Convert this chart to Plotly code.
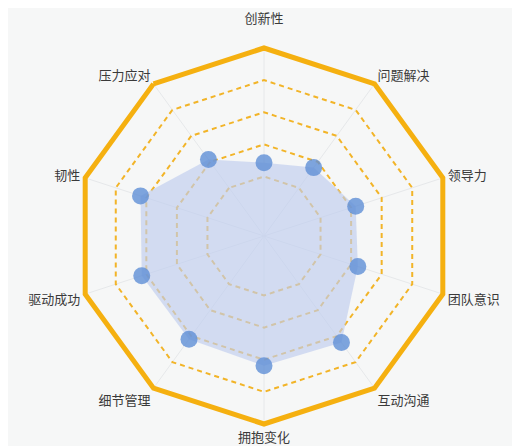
import plotly.graph_objects as go

categories = ["创新性", "问题解决", "领导力", "团队意识", "互动沟通",
              "拥抱变化", "细节管理", "驱动成功", "韧性", "压力应对"]
scores = [2.43, 2.78, 3.15, 3.22, 4.25, 4.19, 4.12, 4.15, 4.19, 3.09]
ring_values = [2, 3, 4, 5]
axis_min, axis_max = 0.15, 6
label_text = ["创新性<br> "] + categories[1:]

fig = go.Figure()
fig.add_trace(go.Scatterpolar(
    r=scores + scores[:1], theta=categories + categories[:1],
    mode="lines", fill="toself", fillcolor="rgba(190,204,238,0.65)",
    line=dict(width=0, color="rgba(0,0,0,0)"), hoverinfo="skip", showlegend=False))
fig.add_trace(go.Scatterpolar(
    r=scores, theta=categories, mode="markers",
    marker=dict(size=17, color="rgba(95,143,214,0.8)", line=dict(width=0)),
    showlegend=False))

bg = "#f6f7f7"
fig.update_layout(
    width=520, height=446,
    paper_bgcolor=bg,
    margin=dict(l=68, r=76, t=40, b=30),
    font=dict(family="Noto Sans CJK SC", size=13, color="#3a3a3a"),
    polar=dict(
        bgcolor=bg,
        gridshape="linear",
        domain=dict(x=[0, 1], y=[0, 1]),
        radialaxis=dict(range=[axis_min, axis_max], tickvals=ring_values,
                        showticklabels=False, ticks="", showline=False,
                        gridcolor="#f2b428", griddash="5px,4px", gridwidth=2.2),
        angularaxis=dict(type="category", categoryarray=categories,
                         tickmode="array", tickvals=categories, ticktext=label_text,
                         rotation=90, direction="clockwise",
                         showline=True, linecolor="#f5b010", linewidth=5,
                         gridcolor="#e6e8ea", gridwidth=1, ticks="",
                         tickfont=dict(size=13, color="#3a3a3a")),
    ),
)
fig.write_html("out.html")
